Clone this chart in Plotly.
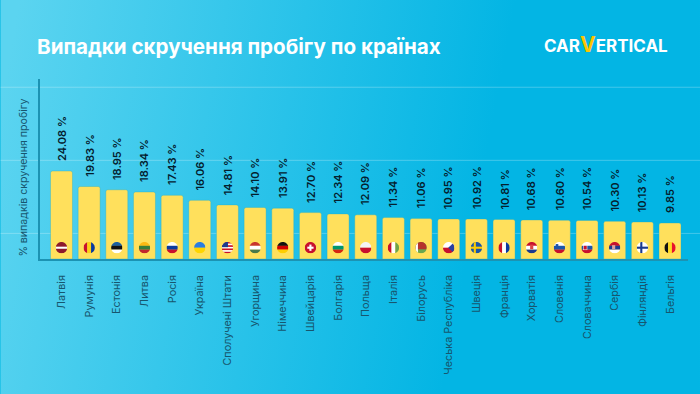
import base64
import plotly.graph_objects as go

countries = ["Латвія","Румунія","Естонія","Литва","Росія","Україна","Сполучені Штати","Угорщина","Німеччина","Швейцарія","Болгарія","Польща","Італія","Білорусь","Чеська Республіка","Швеція","Франція","Хорватія","Словенія","Словаччина","Сербія","Фінляндія","Бельгія"]
values = [24.08,19.83,18.95,18.34,17.43,16.06,14.81,14.10,13.91,12.70,12.34,12.09,11.34,11.06,10.95,10.92,10.81,10.68,10.60,10.54,10.30,10.13,9.85]
grid_values = [7, 27, 47]

R,W,B,K = "#c8102e","#ffffff","#0a3a9e","#111111"
h = lambda *c: "".join(f'<rect x="0" y="{i*22/len(c)}" width="22" height="{22/len(c)+.2}" fill="{v}"/>' for i,v in enumerate(c))
v = lambda *c: "".join(f'<rect y="0" x="{i*22/len(c)}" height="22" width="{22/len(c)+.2}" fill="{k}"/>' for i,k in enumerate(c))
def cross(bg, fg):
    return f'<rect width="22" height="22" fill="{bg}"/><rect x="6" width="4" height="22" fill="{fg}"/><rect y="9" width="22" height="4" fill="{fg}"/>'
flags = [
    '<rect width="22" height="22" fill="#8e1a2c"/><rect y="9" width="22" height="4" fill="#fff"/>',
    v(R,"#fcd116",B),
    h("#1a5fa0",K,W),
    h("#fdb913","#3a7d3a","#c1272d"),
    h(W,B,R),
    h("#2a7de1","#ffd500"),
    h(R,W,R,W,R,W,R)+'<rect width="12" height="10" fill="#1c3a8e"/>',
    h("#c8352e",W,"#4a7a4a"),
    h(K,"#d00000","#ffce00"),
    f'<rect width="22" height="22" fill="{R}"/><rect x="9" y="5" width="4" height="12" fill="#fff"/><rect x="5" y="9" width="12" height="4" fill="#fff"/>',
    h(W,"#00966e","#d62612"),
    h("#f4f4f4",R),
    v(R,W,"#6ea34a"),
    '<rect width="22" height="22" fill="#6aa84f"/><rect width="22" height="14" fill="#b5342c"/><rect width="5" height="22" fill="#fff"/>',
    h(W,R)+'<path d="M22 0 L10 11 L22 22Z" fill="#2a3f9e"/>',
    cross("#1c56a8","#fecc00"),
    v(R,W,B),
    h(R,W,"#1c3a8e")+'<rect x="8" y="5" width="6" height="9" fill="#d44"/>',
    h(W,"#1c56a8",R)+'<rect x="4" y="4" width="5" height="6" fill="#1c56a8"/>',
    h(W,"#1c56a8",R)+'<rect x="4" y="7" width="7" height="8" fill="#c8102e" stroke="#fff"/>',
    h(R,"#1c3a8e",W)+'<rect x="6" y="6" width="6" height="8" fill="#d9a0a0"/>',
    '<rect width="22" height="22" fill="#fff"/><rect x="7" width="4" height="22" fill="#1c3a8e"/><rect y="9" width="22" height="4" fill="#1c3a8e"/>',
    v(K,"#fdda24","#e8112d"),
]

def uri(svg):
    return "data:image/svg+xml;base64," + base64.b64encode(svg.encode()).decode()

def flag_uri(body):
    return uri(f'<svg xmlns="http://www.w3.org/2000/svg" width="44" height="44" viewBox="0 0 22 22"><defs><clipPath id="c"><circle cx="11" cy="11" r="11"/></clipPath></defs><g clip-path="url(#c)">{body}</g></svg>')

background = uri('<svg xmlns="http://www.w3.org/2000/svg" width="700" height="394"><defs><linearGradient id="g" gradientUnits="userSpaceOnUse" x1="0" y1="100" x2="480" y2="190"><stop offset="0" stop-color="#5bd4f0"/><stop offset="1" stop-color="#03b5e4"/></linearGradient></defs><rect width="700" height="394" fill="url(#g)"/></svg>')

W_PX, H_PX = 700, 394
L, Rt, T, Bt = 39.5, 688, 79, 259
PW, PH = Rt-L, Bt-T
UNIT = 27.68      # px per category
PXV = 88/24.08    # px per value unit
x_range = [(L-61)/UNIT, 22+(Rt-670)/UNIT]
y_range = [0, (Bt-T)/PXV]
TEXT = "#17566e"

fig = go.Figure(go.Bar(
    x=countries, y=values, width=0.795,
    marker=dict(color="#ffe05c", cornerradius=2, line=dict(width=0.6, color="rgba(30,170,200,0.6)")),
    hovertemplate="%{x}: %{y:.2f} %<extra></extra>",
))

images = [dict(source=background, xref="paper", yref="paper", x=-L/PW, y=1+T/PH,
               sizex=W_PX/PW, sizey=H_PX/PH, xanchor="left", yanchor="top", sizing="stretch", layer="below")]
for c, b in zip(countries, flags):
    images.append(dict(source=flag_uri(b), xref="x", yref="y", x=c, y=3.09,
                       sizex=11.5/UNIT, sizey=11.5/PXV, xanchor="center", yanchor="middle",
                       sizing="stretch", layer="above"))

shapes = [dict(type="line", xref="paper", yref="y", x0=-L/PW, x1=(W_PX-L)/PW, y0=g, y1=g,
               line=dict(color="rgba(255,255,255,0.25)", width=1), layer="below") for g in grid_values]

annotations = [dict(x=c, y=val, xref="x", yref="y", text=f"{val:.2f} %", showarrow=False, textangle=-90,
                    xanchor="center", yanchor="bottom", yshift=8,
                    font=dict(family="Inter", size=11, color="#04202e", weight=600))
               for c, val in zip(countries, values)]
annotations += [
    dict(text="% випадків скручення пробігу", xref="paper", yref="paper", x=(22-L)/PW, y=(Bt-178)/PH,
         showarrow=False, textangle=-90, xanchor="center", yanchor="middle",
         font=dict(family="Inter", size=10.6, color=TEXT)),
    dict(text="CAR<span style='color:#ffc400;font-size:21px'>V</span>ERTICAL", xref="paper", yref="paper",
         x=(606-L)/PW, y=(Bt-44.5)/PH, showarrow=False, xanchor="center", yanchor="middle",
         font=dict(family="Inter", size=17, color="#ffffff", weight=700)),
]

fig.update_layout(
    width=W_PX, height=H_PX, autosize=False, showlegend=False,
    margin=dict(l=L, r=W_PX-Rt, t=T, b=H_PX-Bt, pad=0),
    paper_bgcolor="#1ac0e6", plot_bgcolor="rgba(0,0,0,0)",
    font=dict(family="Inter", color=TEXT),
    title=dict(text="Випадки скручення пробігу по країнах", x=37/W_PX, xanchor="left", y=1-46.5/H_PX, yanchor="middle",
               font=dict(family="Inter", size=20.6, color="#ffffff", weight=700)),
    xaxis=dict(range=x_range, type="category", categoryorder="array", categoryarray=countries,
               tickangle=-90, ticks="", showgrid=False, zeroline=False,
               showline=True, linecolor="#1c93b3", linewidth=1.5,
               tickfont=dict(family="Inter", size=10.8, color=TEXT), ticklabelstandoff=10),
    yaxis=dict(range=y_range, showticklabels=False, ticks="", showgrid=False, zeroline=False,
               showline=True, linecolor="#1c93b3", linewidth=1.5),
    images=images, shapes=shapes, annotations=annotations,
)

fig.write_html("out.html", config=dict(displayModeBar=False),
               post_script="document.body.style.margin='0';document.documentElement.style.overflow='hidden';")
